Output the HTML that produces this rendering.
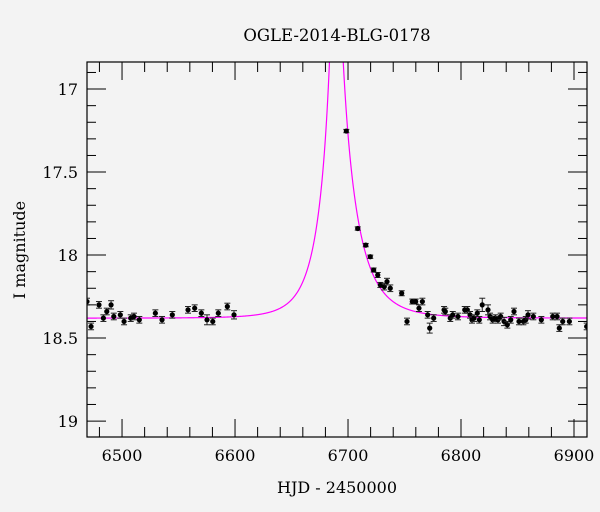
<!DOCTYPE html>
<html><head><meta charset="utf-8"><style>
body{margin:0;background:#f3f3f3;}
svg{display:block;font-family:"DejaVu Serif","Liberation Serif",serif;}
</style></head><body>
<svg id="chart" width="600" height="512" viewBox="0 0 600 512">
<rect width="600" height="512" fill="#f3f3f3"/>
<text x="337" y="41" font-size="16.5" text-anchor="middle">OGLE-2014-BLG-0178</text>
<text x="337" y="493" font-size="16" text-anchor="middle">HJD - 2450000</text>
<text transform="translate(25,250) rotate(-90)" font-size="16" text-anchor="middle">I magnitude</text>
<defs><clipPath id="clip"><rect x="87" y="62" width="500" height="375"/></clipPath></defs>
<g id="marks" clip-path="url(#clip)"></g>
<g id="axes"></g>
</svg>
<script>
const times=[6469,6472.6,6479.6,6483.5,6486.5,6490.3,6492.7,6498.5,6501.8,6507.7,6510.6,6515.3,6529.5,6535.4,6544.5,6558.4,6564.3,6570.2,6575.2,6580.3,6585.2,6593.2,6599.1,
6698.5,6708.6,6715.7,6719.7,6722.7,6726.3,6728.6,6732.1,6734.5,6737.4,6747.5,6752.2,6756.9,6759.9,6762.8,6765.8,6770.5,6772.3,6775.8,6785,6786.1,6790.5,6792.7,6797.3,6803.3,6805.6,6808,6809.7,6811.5,6814.4,6816.2,6818.8,6823.9,6825.7,6828,6830.4,6832.7,6835.1,6838.1,6841,6844,6846.9,6851.3,6855.2,6857.3,6859.3,6864,6871.1,6881.2,6885,6887,6890,6895.9,6911.2];
const mags=[18.28,18.43,18.30,18.38,18.34,18.30,18.37,18.36,18.40,18.38,18.37,18.39,18.35,18.39,18.36,18.33,18.32,18.35,18.39,18.40,18.35,18.31,18.36,
17.253,17.84,17.94,18.01,18.09,18.12,18.18,18.19,18.16,18.20,18.23,18.40,18.28,18.28,18.32,18.28,18.36,18.44,18.38,18.33,18.34,18.38,18.36,18.37,18.33,18.33,18.36,18.39,18.38,18.35,18.39,18.30,18.33,18.37,18.39,18.38,18.39,18.37,18.40,18.42,18.39,18.34,18.40,18.40,18.39,18.36,18.37,18.39,18.37,18.37,18.44,18.40,18.40,18.43];
const errs=[0.02,0.02,0.02,0.02,0.02,0.025,0.02,0.02,0.02,0.02,0.02,0.02,0.02,0.02,0.02,0.02,0.02,0.02,0.03,0.02,0.02,0.02,0.025,
0.01,0.01,0.01,0.01,0.012,0.015,0.015,0.02,0.02,0.02,0.015,0.02,0.015,0.015,0.02,0.02,0.02,0.03,0.02,0.02,0.02,0.02,0.02,0.02,0.02,0.02,0.02,0.02,0.02,0.02,0.02,0.04,0.03,0.02,0.02,0.02,0.02,0.02,0.025,0.02,0.02,0.02,0.02,0.02,0.02,0.025,0.02,0.02,0.02,0.02,0.02,0.02,0.02,0.02];
const model={t0:6689,tErise:24,tEfall:30,u0:0.1,base:18.38};
const xTicks=[6500,6600,6700,6800,6900];
const yTicks=[17,17.5,18,18.5,19];
const yTickLabels=["17","17.5","18","18.5","19"];

const L=87,R=587,T=62,B=437;
const xMin=6469,xMax=6911.5,yMin=16.837,yMax=19.096;
const X=t=>L+(t-xMin)/(xMax-xMin)*(R-L);
const Y=m=>T+(m-yMin)/(yMax-yMin)*(B-T);
const NS="http://www.w3.org/2000/svg";
const marks=document.getElementById('marks'),axes=document.getElementById('axes');
function mk(tag,attrs,parent){const e=document.createElementNS(NS,tag);for(const k in attrs)e.setAttribute(k,attrs[k]);parent.appendChild(e);return e;}

let d="";
for(let t=xMin;t<=xMax;t+=0.2){
  const tE=t<model.t0?model.tErise:model.tEfall;
  const u=Math.sqrt(model.u0*model.u0+Math.pow((t-model.t0)/tE,2));
  const A=(u*u+2)/(u*Math.sqrt(u*u+4));
  const m=model.base-2.5*Math.log10(A);
  d+=(d?"L":"M")+X(t).toFixed(2)+","+Math.max(Y(m),0).toFixed(2);
}
const curve=mk('path',{d:d,fill:'none',stroke:'#ff00ff','stroke-width':1.2},marks);



times.forEach((t,i)=>{
  const g=mk('g',{},marks);
  
  
  const x=X(t),y1=Y(mags[i]-errs[i]),y2=Y(mags[i]+errs[i]);
  mk('line',{x1:x,x2:x,y1:y1,y2:y2,stroke:'#222','stroke-width':1},g);
  mk('line',{x1:x-3,x2:x+3,y1:y1,y2:y1,stroke:'#222','stroke-width':1},g);
  mk('line',{x1:x-3,x2:x+3,y1:y2,y2:y2,stroke:'#222','stroke-width':1},g);
  mk('circle',{cx:x,cy:Y(mags[i]),r:2.6,fill:'#000'},g);
});

const fr=mk('rect',{x:L,y:T,width:R-L,height:B-T,fill:'none',stroke:'#000','stroke-width':1.2},axes);


for(let t=6480;t<=6900;t+=20){
  const x=X(t),maj=(t%100===0),len=maj?18:10;
  mk('line',{x1:x,x2:x,y1:B,y2:B-len,stroke:'#000','stroke-width':1},axes);
  mk('line',{x1:x,x2:x,y1:T,y2:T+len,stroke:'#000','stroke-width':1},axes);
}
xTicks.forEach(t=>{
  const tx=mk('text',{x:X(t),y:B+24,'font-size':16,'text-anchor':'middle'},axes);
  
  
  tx.textContent=t;
});
for(let k=169;k<=190;k++){
  const m=k/10,y=Y(m),maj=(k%5===0),len=maj?19:9;
  mk('line',{x1:L,x2:L+len,y1:y,y2:y,stroke:'#000','stroke-width':1},axes);
  mk('line',{x1:R,x2:R-len,y1:y,y2:y,stroke:'#000','stroke-width':1},axes);
}
yTicks.forEach((m,i)=>{
  const tx=mk('text',{x:78,y:Y(m)+6,'font-size':16,'text-anchor':'end'},axes);
  
  
  tx.textContent=yTickLabels[i];
});
</script>
</body></html>
